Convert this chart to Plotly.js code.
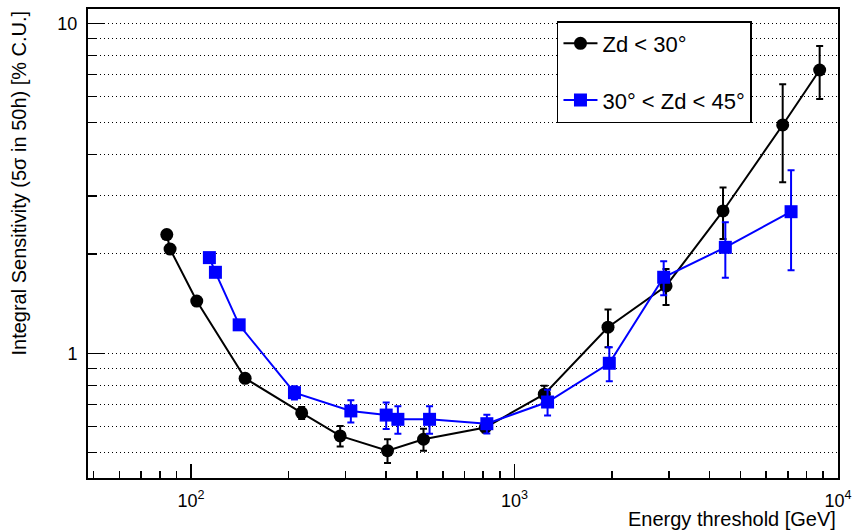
<!DOCTYPE html>
<html>
<head>
<meta charset="utf-8">
<script src="https://cdn.plot.ly/plotly-3.0.1.min.js"></script>
<style>
  html, body { margin: 0; padding: 0; background: #fff; }
  #chart { width: 852px; height: 532px; }
</style>
</head>
<body>
<div id="chart"></div>
<script>
// Integral sensitivity vs. energy threshold, two zenith-distance ranges
const energyLowZd = [84.1, 86.1, 104.1, 146.9, 219.7, 289, 404.8, 523, 812, 1236, 1945, 2940, 4411, 6745, 8776];
const sensLowZd   = [2.29, 2.07, 1.44, 0.84, 0.66, 0.562, 0.507, 0.549, 0.596, 0.752, 1.20, 1.60, 2.70, 4.92, 7.22];
const errLowZd    = [0.02, 0.02, 0.02, 0.02, 0.028, 0.04, 0.042, 0.042, 0.02, 0.045, 0.157, 0.2, 0.48, 1.62, 1.32];

const energyMidZd = [113.9, 118.9, 140.8, 208.7, 311.8, 401, 435.8, 546, 821, 1265, 1963, 2891, 4484, 7160];
const sensMidZd   = [1.95, 1.76, 1.22, 0.76, 0.669, 0.65, 0.631, 0.631, 0.612, 0.712, 0.933, 1.70, 2.095, 2.686];
const errMidZd    = [0.02, 0.02, 0.02, 0.035, 0.052, 0.06, 0.06, 0.06, 0.04, 0.064, 0.11, 0.2, 0.4, 0.9];

const seriesNames = ['Zd &lt; 30°', '30° &lt; Zd &lt; 45°'];

// Axis tick positions and labels
const xMajorTicks = [100, 1000, 10000];
const xMajorText  = ['10<sup>2</sup>', '10<sup>3</sup>', '10<sup>4</sup>'];
const xMinorTicks = [50, 60, 70, 80, 90, 200, 300, 400, 500, 600, 700, 800, 900,
                     2000, 3000, 4000, 5000, 6000, 7000, 8000, 9000];
const yMajorTicks = [1, 10];
const yMajorText  = ['1', '10'];
const yMinorTicks = [0.5, 0.6, 0.7, 0.8, 0.9, 2, 3, 4, 5, 6, 7, 8, 9];

const FONT = 'Liberation Sans, Arial, Helvetica, sans-serif';

function series(x, y, err, name, color, symbol, group) {
  return {
    type: 'scatter', mode: 'lines+markers',
    x: x, y: y, name: name, legendgroup: group,
    line: {color: color, width: 2},
    marker: {color: color, symbol: symbol, size: 13, line: {width: 0}},
    error_y: {type: 'data', array: err, visible: true, color: color, thickness: 2, width: 3.5}
  };
}

const traces = [
  series(energyLowZd, sensLowZd, errLowZd, seriesNames[0], '#000000', 'circle', 'a'),
  series(energyMidZd, sensMidZd, errMidZd, seriesNames[1], '#0000ff', 'square', 'b')
];

const gridDash = '1px,3px';

const layout = {
  width: 852, height: 532,
  margin: {l: 88, r: 14, t: 9, b: 54},
  paper_bgcolor: '#ffffff', plot_bgcolor: '#ffffff',
  font: {family: FONT, color: '#000', size: 18},
  showlegend: true,
  legend: {
    x: 0.6253, y: 0.9744, xanchor: 'left', yanchor: 'top',
    bgcolor: '#ffffff', bordercolor: '#000', borderwidth: 1.5,
    font: {family: FONT, size: 22, color: '#000'},
    traceorder: 'grouped', tracegroupgap: 25, itemwidth: 34
  },
  xaxis: {
    type: 'log', range: [Math.log10(48), 4],
    tickmode: 'array', tickvals: xMajorTicks, ticktext: xMajorText,
    ticks: 'inside', ticklen: 14, tickwidth: 1.5, tickcolor: '#000',
    ticklabelstandoff: 5,
    tickfont: {family: FONT, size: 18, color: '#000'},
    showline: true, mirror: true, linecolor: '#000', linewidth: 2,
    showgrid: false, zeroline: false,
    minor: {tickmode: 'array', tickvals: xMinorTicks, ticks: 'inside', ticklen: 7,
            tickwidth: 1.5, tickcolor: '#000', showgrid: false}
  },
  yaxis: {
    type: 'log', range: [Math.log10(0.419), Math.log10(11.05)],
    tickmode: 'array', tickvals: yMajorTicks, ticktext: yMajorText,
    ticks: 'inside', ticklen: 16, tickwidth: 1.5, tickcolor: '#000',
    ticklabelstandoff: 5,
    tickfont: {family: FONT, size: 18, color: '#000'},
    showline: true, mirror: true, linecolor: '#000', linewidth: 2,
    showgrid: true, gridcolor: '#000', gridwidth: 1, griddash: gridDash,
    zeroline: false,
    minor: {tickmode: 'array', tickvals: yMinorTicks, ticks: 'inside', ticklen: 9,
            tickwidth: 1.5, tickcolor: '#000',
            showgrid: true, gridcolor: '#000', gridwidth: 1, griddash: gridDash}
  },
  annotations: [
    {
      text: 'Energy threshold [GeV]', showarrow: false,
      xref: 'paper', yref: 'paper', x: 1, y: -0.0875,
      xanchor: 'right', yanchor: 'middle',
      font: {family: FONT, size: 20, color: '#000'}
    },
    {
      text: 'Integral Sensitivity (5σ in 50h) [% C.U.]', showarrow: false,
      textangle: -90,
      xref: 'paper', yref: 'paper', x: -0.0933, y: 1.0,
      xanchor: 'center', yanchor: 'top',
      font: {family: FONT, size: 20, color: '#000'}
    }
  ]
};

Plotly.newPlot('chart', traces, layout, {displayModeBar: false, staticPlot: true});
</script>
</body>
</html>
